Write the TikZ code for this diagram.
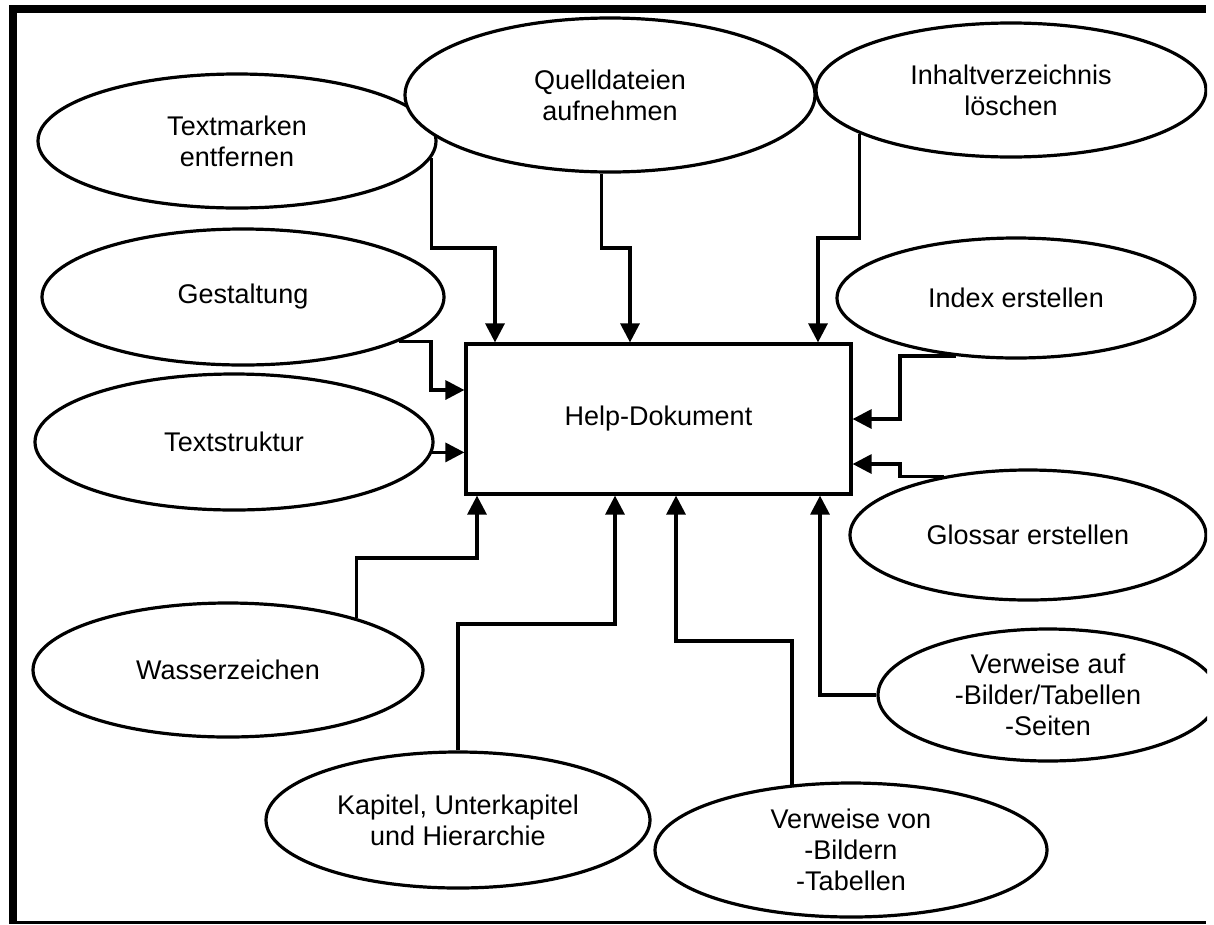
\documentclass[tikz,border=0pt]{standalone}
\usepackage{fontspec}
\setmainfont{Liberation Sans}
\usetikzlibrary{arrows.meta,shapes.geometric}
\begin{document}
\begin{tikzpicture}[x=1pt,y=-1pt,
  bubble/.style={ellipse,draw,line width=3.2pt,fill=white,inner sep=0pt,align=center,
    font=\fontsize{27}{31}\selectfont},
  doc/.style={rectangle,draw,line width=3.2pt,fill=white,inner sep=0pt,
    font=\fontsize{27}{31}\selectfont},
  conn/.style={line width=3.2pt,-{Triangle[length=19pt,width=19pt]}},
  frame/.style={fill=black}]
\useasboundingbox (0,0) rectangle (1214,924);
% frame
\fill[frame] (9,5) rectangle (17,924);
\fill[frame] (9,5) rectangle (1206,13);
\fill[frame] (17,921) rectangle (1206,924);

\begin{scope}
\clip (0,0) rectangle (1207,924);
% central box
\node[doc,minimum width=385pt,minimum height=150pt] (box) at (658.5,419) {Help-Dokument};

% ellipses
\node[bubble,minimum width=398pt,minimum height=134pt] (TM) at (237,141) {Textmarken\\entfernen};
\node[bubble,minimum width=410pt,minimum height=154pt] (QA) at (610,95) {Quelldateien\\aufnehmen};
\node[bubble,minimum width=390pt,minimum height=134pt] (IL) at (1011,90) {Inhaltverzeichnis\\löschen};
\node[bubble,minimum width=402pt,minimum height=136pt] (GE) at (243,297) {Gestaltung};
\node[bubble,minimum width=398pt,minimum height=136pt] (TS) at (234,442) {Textstruktur};
\node[bubble,minimum width=358pt,minimum height=120pt] (IE) at (1016,298) {Index erstellen};
\node[bubble,minimum width=356pt,minimum height=130pt] (GL) at (1028,535) {Glossar erstellen};
\node[bubble,minimum width=390pt,minimum height=134pt] (WZ) at (228,670) {Wasserzeichen};
\node[bubble,minimum width=340pt,minimum height=132pt] (VA) at (1048,695) {Verweise auf\\-Bilder/Tabellen\\-Seiten};
\node[bubble,minimum width=384pt,minimum height=136pt] (KA) at (458,820) {Kapitel, Unterkapitel\\und Hierarchie};
\node[bubble,minimum width=392pt,minimum height=134pt] (VV) at (851,850) {Verweise von\\-Bildern\\-Tabellen};

% bend points
\coordinate (a1) at (495,248);
\coordinate (b1) at (630,248);
\coordinate (c1) at (818,238);
\coordinate (d1) at (431,390);
\coordinate (f1) at (900,419);
\coordinate (g1) at (900,464);
\coordinate (h1) at (477,558);
\coordinate (i1) at (615,624);
\coordinate (j1) at (676,641);
\coordinate (k1) at (820,695);

% connectors
\draw[conn] (TM.-5.6) |- (a1) -- (a1 |- box.north);
\draw[conn] (QA.-96) |- (b1) -- (b1 |- box.north);
\draw[conn] (IL.-164.6) |- (c1) -- (c1 |- box.north);
\draw[conn] (GE.-16.7) -| (d1) -- (d1 -| box.west);
\draw[conn] (TS.-3) -- (TS.-3 -| box.west);
\draw[conn] (IE.-136.9) -| (f1) -- (f1 -| box.east);
\draw[conn] (GL.145.1) -| (g1) -- (g1 -| box.east);
\draw[conn] (WZ.22) |- (h1) -- (h1 |- box.south);
\draw[conn] (KA.north) |- (i1) -- (i1 |- box.south);
\draw[conn] (VV.132.7) |- (j1) -- (j1 |- box.south);
\draw[conn] (VA.west) -- (k1) -- (k1 |- box.south);
\end{scope}
\end{tikzpicture}
\end{document}
